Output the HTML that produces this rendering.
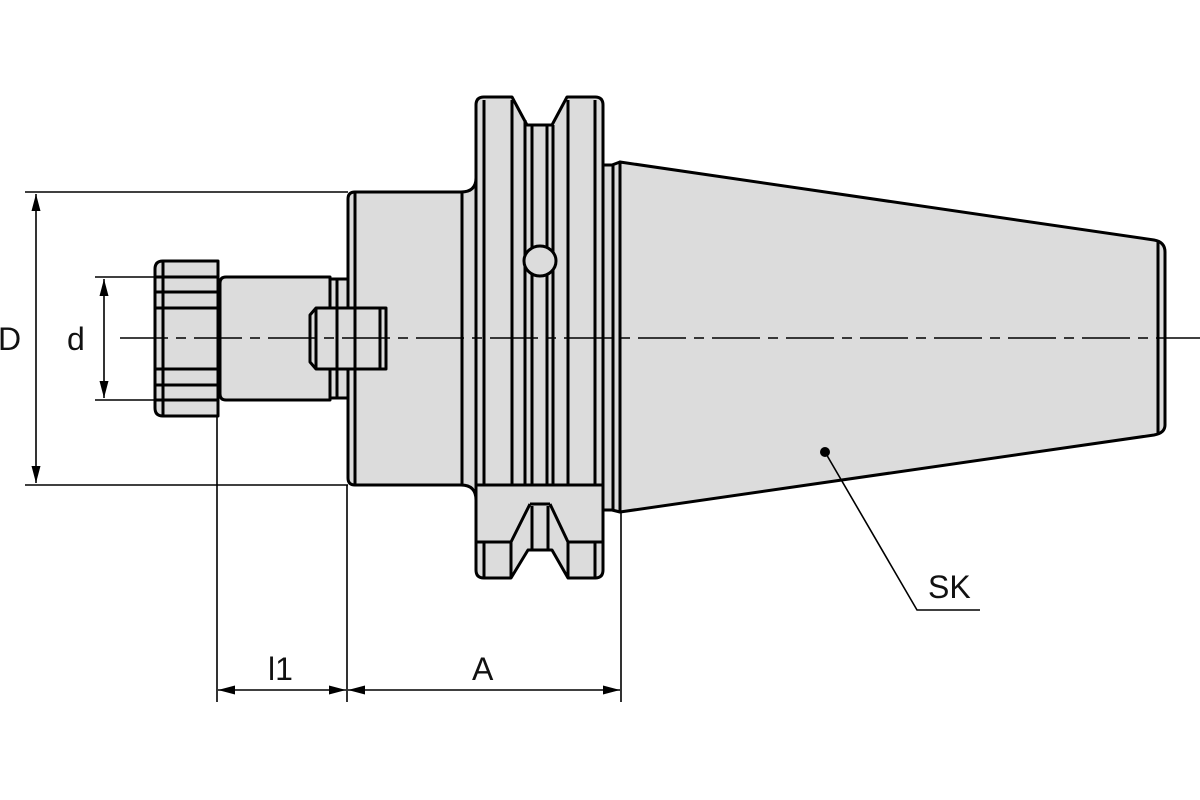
<!DOCTYPE html>
<html><head><meta charset="utf-8"><style>
html,body{margin:0;padding:0;background:#fff;width:1200px;height:800px;overflow:hidden}
svg{display:block}
text{font-family:"Liberation Sans",sans-serif;fill:#111}
</style></head><body>
<svg width="1200" height="800" viewBox="0 0 1200 800" xmlns="http://www.w3.org/2000/svg">
<defs>
<marker id="ar" viewBox="0 0 10 10" refX="10" refY="5" markerWidth="17" markerHeight="9" markerUnits="userSpaceOnUse" preserveAspectRatio="none" orient="auto-start-reverse"><path d="M0,0 L10,5 L0,10 Z" fill="#000"/></marker>
</defs>
<g fill="#dcdcdc" stroke="#000" stroke-width="3" stroke-linejoin="round">
<path d="M620,162 L1154,240 Q1165,242 1165,252 L1165,425 Q1165,433 1154,435 L620,512 Z"/>
<path d="M600,165 L612,165 L620,162 L620,512 L612,510 L600,510 Z"/>
<path d="M484,97 L512,97 L527,125 L552,125 L567,97 L595,97 Q603,97 603,105 L603,490 L476,490 L476,105 Q476,97 484,97 Z"/>
<path d="M476,485 L603,485 L603,570 Q603,578 595,578 L568,578 L552,550 L528,550 L511,578 L484,578 Q476,578 476,570 Z"/>
<path d="M355,192 L461,192 Q476,192 476,178 L476,500 Q476,485 461,485 L355,485 Q348,485 348,478 L348,199 Q348,192 355,192 Z"/>
<rect x="330" y="279" width="18" height="119"/>
<path d="M226,277 L330,277 L330,400 L226,400 Q220,400 220,394 L220,283 Q220,277 226,277 Z"/>
<path d="M163,261 L218,261 L218,416 L163,416 Q155,416 155,408 L155,269 Q155,261 163,261 Z"/>
<path d="M316,308 L386,308 L386,369 L316,369 L310,362 L310,315 Z"/>
</g>
<g stroke="#000" stroke-width="3" fill="none">
<path d="M484,100 V485 M512,100 V485 M525,120 V485 M532,125 V485 M547,125 V485 M553,125 V485 M568,100 V485 M595,100 V485 M613,165 V510"/>
<path d="M484,542 V578 M595,542 V578 M476,542 H511 M568,542 H603 M511,542 V578 M568,542 V578"/>
<path d="M530,504 H550 M530,504 L511,542 M550,504 L568,542 M532,506 V550 M548,506 V550"/>
<path d="M462,192 V485 M355,192 V485 M1158,242 V433"/>
<path d="M337,279 V398 M163,261 V416 M155,277 H218 M155,292 H218 M155,308 H218 M155,369 H218 M155,385 H218 M155,400 H218 M316,308 V369 M380,308 V369"/>
<ellipse cx="540" cy="261" rx="16" ry="15" fill="#dcdcdc"/>
</g>
<line x1="120" y1="338" x2="1200" y2="338" stroke="#000" stroke-width="1.6" stroke-dasharray="48,8,10,8"/>
<g stroke="#000" stroke-width="1.6" fill="none">
<path d="M25,192 H348 M25,485 H348 M95,277 H158 M95,400 H158"/>
<line x1="36" y1="194" x2="36" y2="483" marker-start="url(#ar)" marker-end="url(#ar)"/>
<line x1="104" y1="279" x2="104" y2="398" marker-start="url(#ar)" marker-end="url(#ar)"/>
<path d="M217,416 V702 M347,485 V702 M621,512 V702"/>
<line x1="218" y1="690" x2="346" y2="690" marker-start="url(#ar)" marker-end="url(#ar)"/>
<line x1="348" y1="690" x2="620" y2="690" marker-start="url(#ar)" marker-end="url(#ar)"/>
<path d="M825,452 L917,610 H980"/>
</g>
<circle cx="825" cy="452" r="5" fill="#000"/>
<text x="-2" y="350" font-size="32">D</text>
<text x="67" y="350" font-size="32">d</text>
<text x="268" y="680" font-size="32">l1</text>
<text x="472" y="680" font-size="32">A</text>
<text x="928" y="598" font-size="32">SK</text>
</svg>
</body></html>
